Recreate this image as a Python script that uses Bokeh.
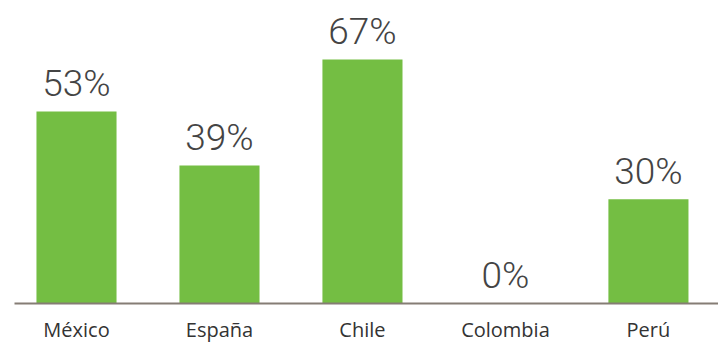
from bokeh.plotting import figure
from bokeh.models import Range1d, FixedTicker, ColumnDataSource
from bokeh.core.properties import value
from bokeh.embed import file_html
from bokeh.resources import INLINE

categories = ["México", "España", "Chile", "Colombia", "Perú"]
values = [52.7, 37.9, 67.0, 0.0, 28.6]
value_labels = ["53%", "39%", "67%", "0%", "30%"]

xpos = list(range(len(categories)))
src = ColumnDataSource(dict(x=xpos, top=values, label=value_labels))

p = figure(width=718, height=345, output_backend="svg", toolbar_location=None,
           x_range=Range1d(-0.4336, 4.490), y_range=Range1d(0, 83.2),
           min_border_left=14, min_border_right=0, min_border_top=0, min_border_bottom=0)
p.outline_line_color = None
p.grid.visible = False
p.yaxis.visible = False
p.background_fill_color = "white"
p.border_fill_color = "white"

p.vbar(x="x", top="top", bottom=0, width=0.56, source=src,
       fill_color="#74BE43", line_color=None)
p.text(x="x", y="top", text="label", source=src,
       text_align="center", text_baseline="alphabetic", y_offset=-28,
       text_font=value("Roboto Light"), text_font_size="37px", text_color="#444444")

ax = p.xaxis[0]
ax.ticker = FixedTicker(ticks=xpos)
ax.major_label_overrides = {i: c for i, c in enumerate(categories)}
ax.major_tick_line_color = None
ax.minor_tick_line_color = None
ax.major_tick_out = 0
ax.major_tick_in = 0
ax.axis_line_color = "#857D75"
ax.axis_line_width = 2
ax.major_label_standoff = 12
ax.major_label_text_font = "Open Sans"
ax.major_label_text_font_size = "20px"
ax.major_label_text_color = "#333333"

open("out.html", "w").write(file_html(p, INLINE))
